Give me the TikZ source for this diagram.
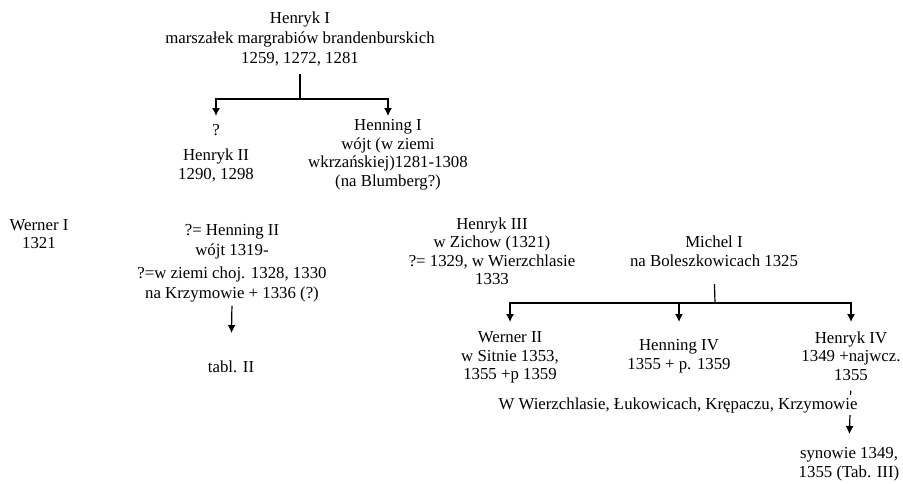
\documentclass[tikz,border=0pt]{standalone}
\usepackage{fontspec}
\setmainfont{Liberation Serif}
\usetikzlibrary{arrows.meta}
\tikzset{
  person/.style={align=center, inner sep=0pt, anchor=north, font=\fontsize{16.8}{18.5}\selectfont},
}

\begin{document}
\begin{tikzpicture}[x=1pt,y=-1pt,>={Latex[length=8pt,width=8pt]},line width=1.2pt]
\useasboundingbox (0,0) rectangle (903,483);
% first generation
\node[person, font=\fontsize{16.8}{20}\selectfont] (henryk1) at (300,11) {Henryk I\\marszałek margrabiów brandenburskich\\1259, 1272, 1281};
\node[person, font=\fontsize{16.8}{19}\selectfont] (henryk2) at (216,124) {?\\[6pt]Henryk II\\1290, 1298};
\node[person] (henning1) at (388,119) {Henning I\\wójt (w ziemi\\wkrzańskiej)1281-1308\\(na Blumberg?)};
\coordinate (fork1) at (300,99);
\draw[shorten <=8pt] (henryk1.south) -- (fork1);
\draw[->, shorten >=8pt] (fork1) -| (henryk2.north);
\draw[->, shorten >=3pt] (fork1) -| (henning1.north);
% next generation
\node[person, font=\fontsize{16.8}{18}\selectfont] (werner1) at (39,219) {Werner I\\1321};
\node[person, font=\fontsize{16.8}{20}\selectfont] (henning2) at (232,224) {?= Henning II\\wójt 1319-\\[3pt]?=w ziemi choj. 1328, 1330\\na Krzymowie + 1336 (?)};
\node[person] (tabl2) at (231,360) {tabl. II};
\draw[->, shorten <=3pt, shorten >=27pt] (henning2.south) -- (tabl2.north);
\node[person] (henryk3) at (492,217) {Henryk III\\w Zichow (1321)\\?= 1329, w Wierzchlasie\\1333};
\node[person, font=\fontsize{16.8}{19}\selectfont] (michel1) at (714,235) {Michel I\\na Boleszkowicach 1325};
% sons of Michel
\node[person] (werner2) at (510,331) {Werner II\\w Sitnie 1353,\\1355 +p 1359};
\node[person, font=\fontsize{16.8}{19}\selectfont] (henning4) at (679,339) {Henning IV\\1355 + p. 1359};
\node[person] (henryk4) at (851,331) {Henryk IV\\1349 +najwcz.\\1355};
\coordinate (fork2) at (715,303);
\draw[shorten <=17pt] (michel1.south) -- (fork2);
\draw[->, shorten >=9pt] (fork2) -| (werner2.north);
\draw[->, shorten >=17pt] (fork2) -| (henning4.north);
\draw[->, shorten >=9pt] (fork2) -| (henryk4.north);
\node[person, font=\fontsize{16.8}{19}\selectfont] (synowie) at (849,447) {synowie 1349,\\1355 (Tab. III)};
\draw[->, shorten <=9.5pt, shorten >=13pt] (henryk4.south) -- (synowie.north);
\node[person, anchor=center, fill=white, inner xsep=1pt, inner ysep=2.5pt] (wierzchlas) at (678,405) {W Wierzchlasie, Łukowicach, Krępaczu, Krzymowie};
\end{tikzpicture}
\end{document}
